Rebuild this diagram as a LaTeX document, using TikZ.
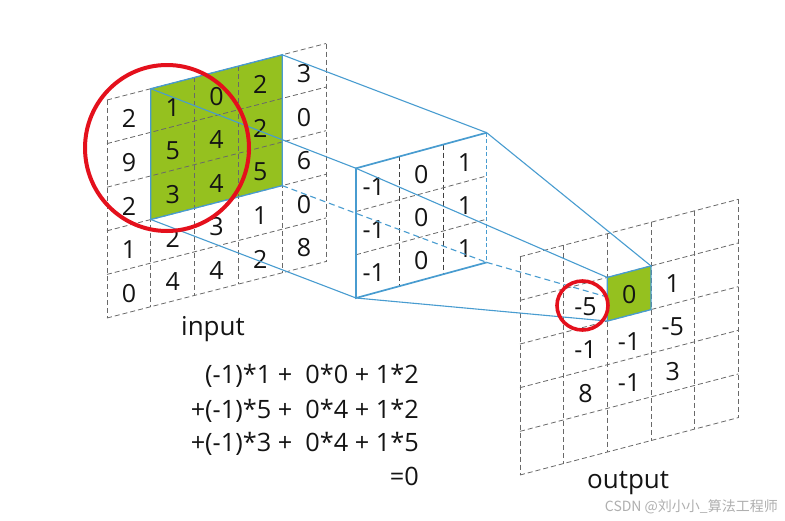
\documentclass[tikz,border=0pt]{standalone}
\usepackage{fontspec}
\setmainfont{Open Sans}
\newfontfamily\cjkfont{Noto Sans CJK SC}
\definecolor{gridgray}{RGB}{105,105,105}
\definecolor{bluel}{RGB}{72,156,208}
\definecolor{greenf}{RGB}{149,193,31}
\definecolor{redc}{RGB}{228,16,28}
\definecolor{wmgray}{RGB}{175,175,175}
\tikzset{
  gridline/.style={gridgray, line width=0.8pt, dash pattern=on 5pt off 3pt},
  kerninner/.style={black!75, line width=0.8pt, dash pattern=on 5pt off 3pt},
  conn/.style={bluel, line width=1.1pt},
  connhid/.style={bluel, line width=1.1pt, dash pattern=on 6pt off 4pt},
  kborder/.style={bluel, line width=1.7pt},
  num/.style={font=\fontsize{25}{30}\selectfont, inner sep=0pt, text=black!92},
  lbl/.style={font=\fontsize{26}{30}\selectfont, inner sep=0pt, text=black!92},
  formula/.style={font=\fontsize{25.3}{30}\selectfont, inner sep=0pt, text=black!92, anchor=base east},
  redring/.style={redc, line width=4pt}
}
\begin{document}
\begin{tikzpicture}[x=1pt,y=-1pt]
\useasboundingbox (0,0) rectangle (785,520);
\fill[white] (0,0) rectangle (785,520);

% ---------------- input grid ----------------
\begin{scope}[shift={(107,100)}, x={(43.8pt,11.3pt)}, y={(0pt,-43.6pt)}]
  \fill[greenf] (1,0) -- (4,0) -- (4,3) -- (1,3) -- cycle;
  \foreach \i in {0,...,5} \draw[gridline] (\i,0) -- (\i,5);
  \foreach \j in {0,...,5} \draw[gridline] (0,\j) -- (5,\j);
  \draw[kborder, line width=1.3pt] (1,0) -- (4,0) -- (4,3) -- (1,3) -- cycle;
  \coordinate (gTL) at (1,0);
  \coordinate (gTR) at (4,0);
  \coordinate (gBR) at (4,3);
  \coordinate (gBL) at (1,3);
  \foreach \row [count=\r from 0] in {{2,1,0,2,3},{9,5,4,2,0},{2,3,4,5,6},{1,2,3,1,0},{0,4,4,2,8}} {
    \foreach \v [count=\c from 0] in \row {
      \node[num] (in-\r-\c) at (\c+0.5,\r+0.56) {\v};
    }
  }
\end{scope}
\node[lbl, anchor=base west] (inputlbl) at (181,335) {input};

% ---------------- output grid ----------------
\begin{scope}[shift={(520,256.7)}, x={(43.66pt,11.48pt)}, y={(0pt,-43.66pt)}]
  \foreach \i in {0,...,5} \draw[gridline] (\i,0) -- (\i,5);
  \foreach \j in {0,...,5} \draw[gridline] (0,\j) -- (5,\j);
  \coordinate (oTL) at (2,1);
  \coordinate (oTR) at (3,1);
  \coordinate (oBR) at (3,2);
  \coordinate (oBL) at (2,2);
\end{scope}

% ---------------- kernel ----------------
\begin{scope}[shift={(356,168.3)}, x={(43.57pt,11.87pt)}, y={(0pt,-43.23pt)}]
  \foreach \i in {1,2} \draw[kerninner] (\i,0) -- (\i,3);
  \foreach \j in {1,2} \draw[gridline] (0,\j) -- (3,\j);
  \coordinate (kTL) at (0,0);
  \coordinate (kTR) at (3,0);
  \coordinate (kBR) at (3,3);
  \coordinate (kBL) at (0,3);
  \foreach \r in {0,1,2} {
    \node[num, xshift=-4pt] (k-\r-0) at (0.5,\r+0.55) {-1};
    \node[num] (k-\r-1) at (1.5,\r+0.55) {0};
    \node[num] (k-\r-2) at (2.5,\r+0.55) {1};
  }
\end{scope}

% ---------------- connectors ----------------
\draw[conn] (gTL) -- (kTL);
\draw[conn] (gTR) -- (kTR);
\draw[connhid] (gBR) -- (kBR);
\draw[conn] (gBL) -- (kBL);
\draw[conn] (kTL) -- (oTL);
\draw[conn] (kTR) -- (oTR);
\draw[connhid] (kBR) -- (oBR);
\draw[conn] (kBL) -- (oBL);
\draw[kborder] (kBR) -- (kBL) -- (kTL) -- (kTR);
\draw[kborder, line width=1.2pt, dash pattern=on 4pt off 2.5pt] (kTR) -- (kBR);

% ---------------- output cell + values ----------------
\fill[greenf] (oTL) -- (oTR) -- (oBR) -- (oBL) -- cycle;
\draw[kborder, line width=1.3pt] (oTL) -- (oTR) -- (oBR) -- (oBL) -- cycle;
\begin{scope}[shift={(520,256.7)}, x={(43.66pt,11.48pt)}, y={(0pt,-43.66pt)}]
  \node[num] (o-1-1) at (1.5,1.53) {-5};
  \node[num] (o-1-2) at (2.5,1.53) {0};
  \node[num] (o-1-3) at (3.5,1.53) {1};
  \node[num] (o-2-1) at (1.5,2.53) {-1};
  \node[num] (o-2-2) at (2.5,2.6) {-1};
  \node[num] (o-2-3) at (3.5,2.53) {-5};
  \node[num] (o-3-1) at (1.5,3.53) {8};
  \node[num] (o-3-2) at (2.5,3.55) {-1};
  \node[num] (o-3-3) at (3.5,3.55) {3};
\end{scope}
\node[lbl, anchor=base west] (outputlbl) at (587,488) {output};

% ---------------- red rings ----------------
\draw[redring] (167,148) ellipse [x radius=82pt, y radius=83pt];
\draw[redring, line width=3.6pt] (582.5,305.5) ellipse [x radius=25.5pt, y radius=24.5pt];

% ---------------- formula ----------------
\node[formula] (f1) at (419,383.5) {(-1)*1 +\ \ 0*0 + 1*2};
\node[formula] (f2) at (419,418.5) {+(-1)*5 +\ \ 0*4 + 1*2};
\node[formula] (f3) at (419,451.5) {+(-1)*3 +\ \ 0*4 + 1*5};
\node[formula] (f4) at (419,485) {=0};

% ---------------- watermark ----------------
\node[font=\cjkfont\fontsize{14}{16}\selectfont, text=wmgray, anchor=base east, inner sep=0pt] (wm) at (778,511) {CSDN @刘小小\_算法工程师};
\end{tikzpicture}
\end{document}
